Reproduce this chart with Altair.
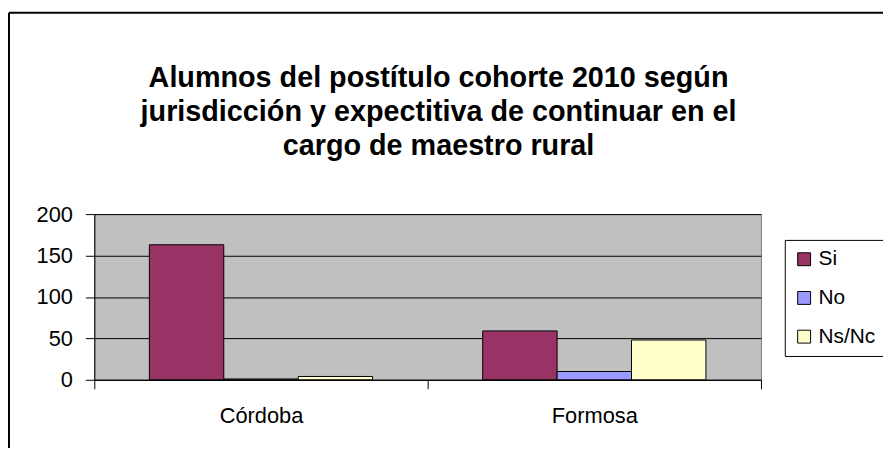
import altair as alt
import pandas as pd

categories = ["Córdoba", "Formosa"]
series = ["Si", "No", "Ns/Nc"]
si_values = [163, 59]
no_values = [1, 10]
nsnc_values = [4, 48]
colors = ["#993366", "#9999FF", "#FFFFCC"]
y_ticks = [0, 50, 100, 150, 200]
title_lines = [
    "Alumnos del postítulo cohorte 2010 según",
    "jurisdicción y expectitiva de continuar en el",
    "cargo de maestro rural",
]

rows = []
for i, c in enumerate(categories):
    for s, vals in zip(series, [si_values, no_values, nsnc_values]):
        rows.append({"Jurisdicción": c, "Respuesta": s, "Alumnos": vals[i]})
df = pd.DataFrame(rows)

FONT = "Liberation Sans"

bars = alt.Chart(df).mark_bar(stroke="black", strokeWidth=1).encode(
    x=alt.X(
        "Jurisdicción:N",
        sort=categories,
        scale=alt.Scale(paddingInner=0, paddingOuter=0),
        axis=alt.Axis(
            title=None, labelAngle=0, labelFont=FONT, labelFontSize=22,
            labelColor="black", tickBand="extent", tickSize=9,
            tickColor="black", domainColor="black", labelPadding=17, grid=False,
        ),
    ),
    xOffset=alt.XOffset(
        "Respuesta:N", sort=series,
        scale=alt.Scale(paddingOuter=0.74, paddingInner=0),
    ),
    y=alt.Y(
        "Alumnos:Q",
        scale=alt.Scale(domain=[0, 200], nice=False),
        axis=alt.Axis(
            title=None, values=y_ticks, grid=True, gridColor="black",
            gridOpacity=1, gridWidth=1, labelFont=FONT, labelFontSize=22,
            labelColor="black", tickSize=9, tickColor="black",
            domainColor="black", labelPadding=13,
        ),
    ),
    color=alt.Color(
        "Respuesta:N", sort=series,
        scale=alt.Scale(domain=series, range=colors),
        legend=alt.Legend(
            title=None, orient="none", legendX=696, legendY=26,
            strokeColor="black", fillColor="white", padding=9,
            symbolType="square", symbolSize=169, symbolStrokeColor="black",
            symbolStrokeWidth=1, labelFont=FONT, labelFontSize=21,
            labelColor="black", labelOffset=4, rowPadding=17,
        ),
    ),
)

title_df = pd.DataFrame({"t": ["\n".join(title_lines)]})
title = alt.Chart(title_df).mark_text(
    font=FONT, fontSize=29, fontWeight="bold", color="black",
    lineBreak="\n", lineHeight=34, align="center", baseline="middle",
).encode(text="t:N", x=alt.value(347), y=alt.value(-137))

border_left = alt.Chart(title_df).mark_rule(color="black", strokeWidth=2).encode(
    x=alt.value(-86), y=alt.value(-203), y2=alt.value(240)
)
border_top = alt.Chart(title_df).mark_rule(color="black", strokeWidth=2).encode(
    x=alt.value(-86), x2=alt.value(800), y=alt.value(-203)
)

chart = alt.layer(bars, title, border_left, border_top).properties(
    width=672, height=167,
    autosize=alt.AutoSizeParams(type="none"),
    padding={"left": 87, "top": 206, "right": 123, "bottom": 67},
    background="white",
).configure_view(fill="#C0C0C0", stroke="#808080", strokeWidth=1)

chart.save("out.html", embed_options={"renderer": "svg", "actions": False})
